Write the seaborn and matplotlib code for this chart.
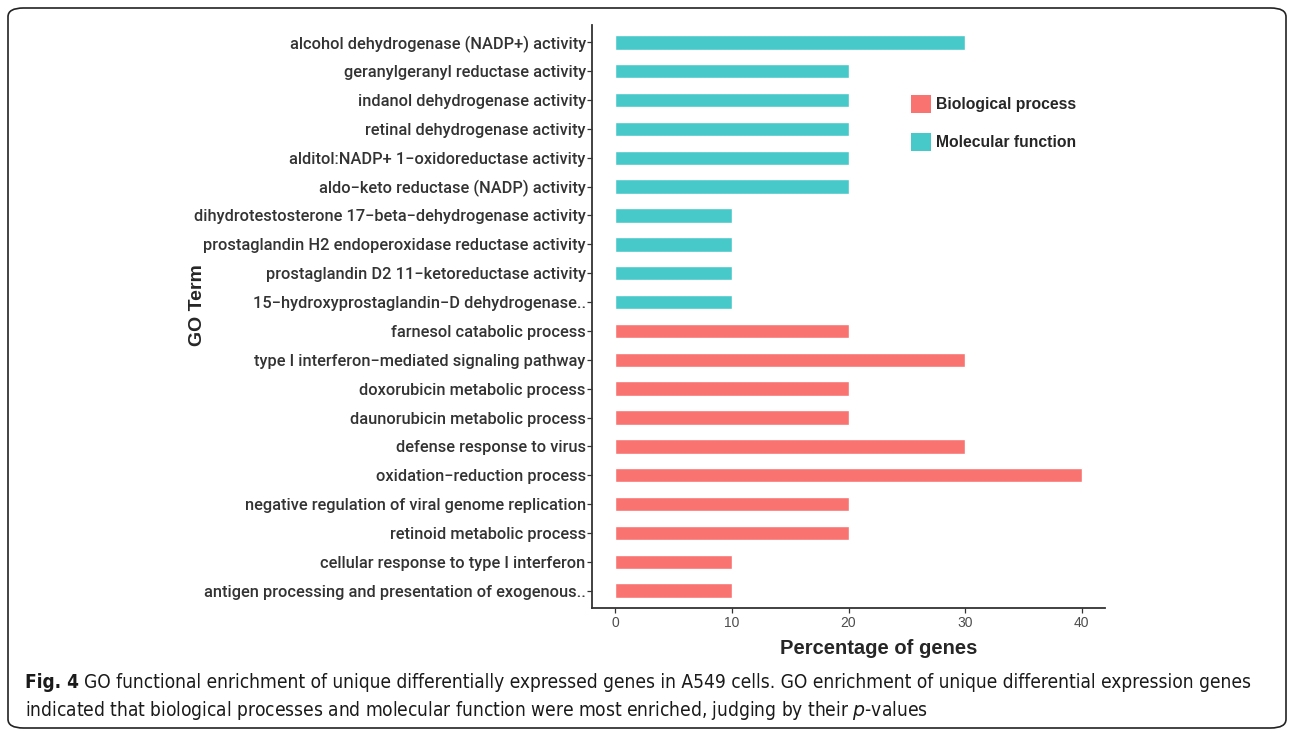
import matplotlib
matplotlib.use("Agg")
import matplotlib.pyplot as plt
import matplotlib.patches as mpatches
from matplotlib import font_manager
import seaborn as sns
import pandas as pd

# GO terms, top to bottom as drawn
terms = [
    "alcohol dehydrogenase (NADP+) activity",
    "geranylgeranyl reductase activity",
    "indanol dehydrogenase activity",
    "retinal dehydrogenase activity",
    "alditol:NADP+ 1\u2212oxidoreductase activity",
    "aldo\u2212keto reductase (NADP) activity",
    "dihydrotestosterone 17\u2212beta\u2212dehydrogenase activity",
    "prostaglandin H2 endoperoxidase reductase activity",
    "prostaglandin D2 11\u2212ketoreductase activity",
    "15\u2212hydroxyprostaglandin\u2212D dehydrogenase..",
    "farnesol catabolic process",
    "type I interferon\u2212mediated signaling pathway",
    "doxorubicin metabolic process",
    "daunorubicin metabolic process",
    "defense response to virus",
    "oxidation\u2212reduction process",
    "negative regulation of viral genome replication",
    "retinoid metabolic process",
    "cellular response to type I interferon",
    "antigen processing and presentation of exogenous..",
]
percent = [30, 20, 20, 20, 20, 20, 10, 10, 10, 10,
           20, 30, 20, 20, 30, 40, 20, 20, 10, 10]
category = ["Molecular function"] * 10 + ["Biological process"] * 10

cat_order = ["Biological process", "Molecular function"]
colors = {"Biological process": "#F97370", "Molecular function": "#47C9C9"}

caption_bold = "Fig. 4"
caption_1 = ("GO functional enrichment of unique differentially expressed genes in A549 cells. "
             "GO enrichment of unique differential expression genes")
caption_2 = ("indicated that biological processes and molecular function were most enriched, "
             "judging by their $\\it{p}$-values")

df = pd.DataFrame({"Term": terms, "Percent": percent, "Category": category})

sns.set_style("white")
plt.rcParams["font.family"] = ["Liberation Sans", "DejaVu Sans"]

fonts = font_manager.fontManager.ttflist
lab_font = "Roboto" if any(f.name == "Roboto" for f in fonts) else "Liberation Sans"
has_cond = any(f.name == "DejaVu Sans" and f.stretch == "condensed" for f in fonts)
cap_kw = {"family": "DejaVu Sans", "stretch": "condensed"} if has_cond else {"family": "Liberation Sans"}

fig = plt.figure(figsize=(12.9, 7.3), dpi=100)
ax = fig.add_axes([592 / 1290, 1 - 608 / 730, (1105 - 592) / 1290, (608 - 25) / 730])

sns.barplot(data=df, x="Percent", y="Term", hue="Category", hue_order=cat_order,
            palette=colors, dodge=False, width=0.5, orient="h", ax=ax,
            order=terms, legend=False, saturation=1)

ax.set_xlim(-2, 42)
ax.set_ylim(len(terms) - 0.4, -0.6)
ax.set_xticks([0, 10, 20, 30, 40])
for s in ["top", "right"]:
    ax.spines[s].set_visible(False)
for s in ["left", "bottom"]:
    ax.spines[s].set_color("#333333")
    ax.spines[s].set_linewidth(1.3)
ax.tick_params(axis="both", which="major", length=3.5, width=0.9, color="#333333",
               left=True, bottom=True, pad=2)
ax.tick_params(axis="y", pad=1)
ax.tick_params(axis="x", labelsize=10, labelcolor="#4d4d4d")
for lab in ax.get_yticklabels():
    lab.set_fontfamily(lab_font)
    lab.set_fontweight("medium")
    lab.set_fontsize(11.8)
    lab.set_color("#333333")

ax.set_xlabel("Percentage of genes", fontsize=14.5, fontweight="bold")
ax.xaxis.set_label_coords((879 - 592) / (1105 - 592), -(648 - 608) / (608 - 25))
ax.xaxis.label.set_va("center")
ax.set_ylabel("GO Term", fontsize=14, fontweight="bold")
ax.yaxis.set_label_coords((206 - 592) / (1105 - 592), 0.52)

handles = [mpatches.Patch(facecolor=colors[c], edgecolor="none", label=c) for c in cat_order]
leg = ax.legend(handles=handles, loc="upper left", bbox_to_anchor=(0.595, 0.905),
                frameon=False, handlelength=1.25, handleheight=1.45, labelspacing=1.25,
                handletextpad=0.35, prop={"size": 11.3, "weight": "bold"})

# caption, sized so the first line ends where it does in the figure
fig.canvas.draw()
r = fig.canvas.get_renderer()
cap_y1 = 1 - 682 / 730
cap_y2 = 1 - 710 / 730
size = 15
for _ in range(3):
    t1 = fig.text(25 / 1290, cap_y1, caption_bold, fontsize=size, fontweight="bold",
                  color="#1a1a1a", va="center", **cap_kw)
    bb = t1.get_window_extent(r)
    t2 = fig.text((bb.x1 + 5) / 1290, cap_y1, caption_1, fontsize=size,
                  color="#1a1a1a", va="center", **cap_kw)
    end = t2.get_window_extent(r).x1
    if abs(end - 1250) < 4:
        break
    t1.remove()
    t2.remove()
    size = size * (1250 - 25) / (end - 25)
fig.text(25 / 1290, cap_y2, caption_2, fontsize=size, color="#1a1a1a", va="center", **cap_kw)

# rounded frame around figure
frame = mpatches.FancyBboxPatch((8 / 1290, 2 / 730), 1278 / 1290, 720 / 730,
                                boxstyle="round,pad=0,rounding_size=0.012",
                                transform=fig.transFigure, fill=False,
                                edgecolor="#222222", linewidth=1.2)
fig.patches.append(frame)

fig.savefig("out.png", dpi=100)
